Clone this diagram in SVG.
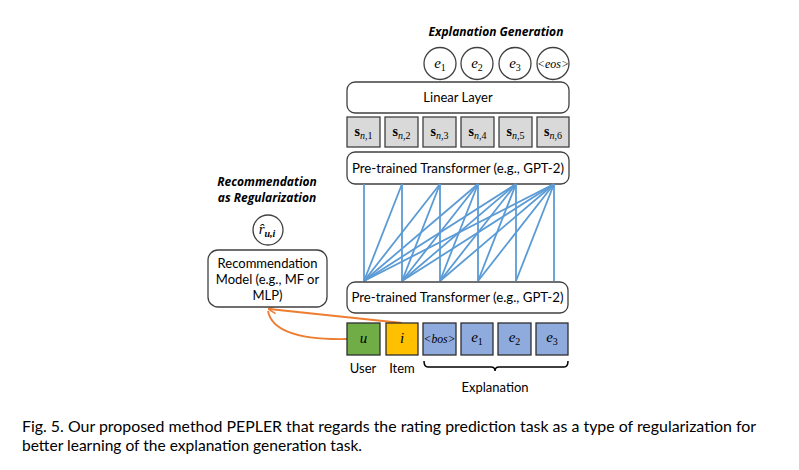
<svg xmlns="http://www.w3.org/2000/svg" width="799" height="470" viewBox="0 0 799 470">
<style>
.box{fill:#fff;stroke:#404040;stroke-width:1.3}
.lbl{font-family:Lato,"Open Sans",sans-serif;font-size:13px;fill:#000;text-anchor:middle}
.ttl{font-family:"Open Sans",Lato,sans-serif;font-size:12px;font-weight:bold;font-style:italic;fill:#000;text-anchor:middle}
.m{font-family:"Liberation Serif",serif;fill:#000;text-anchor:middle}
.sbox{fill:#d9d9d9;stroke:#404040;stroke-width:1.3}
.tok{fill:#8faadc;stroke:#2f2f2f;stroke-width:1.3}
.att{stroke:#5b9bd5;stroke-width:1.8;fill:none}
.cap{font-family:Lato,"Open Sans",sans-serif;font-size:15px;fill:#000}
</style>
<defs>
<marker id="oa" markerWidth="8" markerHeight="8" refX="7" refY="4" orient="auto" markerUnits="userSpaceOnUse">
<path d="M0,0 L8,4 L0,8" fill="none" stroke="#ed7d31" stroke-width="1.5"/>
</marker>
</defs>
<rect width="799" height="470" fill="#fff"/>

<g id="title-gen"><text class="ttl" x="496" y="36">Explanation Generation</text></g>
<g id="out-e1"><circle cx="440" cy="63.5" r="16" class="box"/><text class="m" x="440" y="68" font-style="italic" font-size="15">e<tspan font-size="10" dy="3" font-style="normal">1</tspan></text></g>
<g id="out-e2"><circle cx="477" cy="63.5" r="16" class="box"/><text class="m" x="477" y="68" font-style="italic" font-size="15">e<tspan font-size="10" dy="3" font-style="normal">2</tspan></text></g>
<g id="out-e3"><circle cx="515" cy="63.5" r="16" class="box"/><text class="m" x="515" y="68" font-style="italic" font-size="15">e<tspan font-size="10" dy="3" font-style="normal">3</tspan></text></g>
<g id="out-eos"><circle cx="553" cy="63.5" r="16" class="box"/><text class="m" x="553" y="67.5" font-style="italic" font-size="12" textLength="32" lengthAdjust="spacingAndGlyphs">&lt;eos&gt;</text></g>

<g id="linear"><rect x="347" y="82" width="222" height="31" rx="8" class="box"/><text class="lbl" x="458" y="102">Linear Layer</text></g>

<g id="s1"><rect x="347" y="117" width="33" height="30" class="sbox"/><text class="m" x="363.5" y="136" font-size="14"><tspan font-weight="bold">s</tspan><tspan font-size="10" dy="3"><tspan font-style="italic">n</tspan>,1</tspan></text></g>
<g id="s2"><rect x="385" y="117" width="33" height="30" class="sbox"/><text class="m" x="401.5" y="136" font-size="14"><tspan font-weight="bold">s</tspan><tspan font-size="10" dy="3"><tspan font-style="italic">n</tspan>,2</tspan></text></g>
<g id="s3"><rect x="423" y="117" width="33" height="30" class="sbox"/><text class="m" x="439.5" y="136" font-size="14"><tspan font-weight="bold">s</tspan><tspan font-size="10" dy="3"><tspan font-style="italic">n</tspan>,3</tspan></text></g>
<g id="s4"><rect x="461" y="117" width="33" height="30" class="sbox"/><text class="m" x="477.5" y="136" font-size="14"><tspan font-weight="bold">s</tspan><tspan font-size="10" dy="3"><tspan font-style="italic">n</tspan>,4</tspan></text></g>
<g id="s5"><rect x="499" y="117" width="33" height="30" class="sbox"/><text class="m" x="515.5" y="136" font-size="14"><tspan font-weight="bold">s</tspan><tspan font-size="10" dy="3"><tspan font-style="italic">n</tspan>,5</tspan></text></g>
<g id="s6"><rect x="537" y="117" width="32" height="30" class="sbox"/><text class="m" x="553" y="136" font-size="14"><tspan font-weight="bold">s</tspan><tspan font-size="10" dy="3"><tspan font-style="italic">n</tspan>,6</tspan></text></g>

<g id="transformer-top"><rect x="347" y="152" width="222" height="32" rx="8" class="box"/><text class="lbl" x="458" y="173" textLength="212" lengthAdjust="spacingAndGlyphs">Pre-trained Transformer (e.g., GPT-2)</text></g>

<g id="connectors">
<g class="att">
<line x1="364" y1="281" x2="364" y2="184"/><line x1="364" y1="281" x2="402" y2="184"/><line x1="364" y1="281" x2="440" y2="184"/><line x1="364" y1="281" x2="478" y2="184"/><line x1="364" y1="281" x2="516" y2="184"/><line x1="364" y1="281" x2="554" y2="184"/>
<line x1="402" y1="281" x2="402" y2="184"/><line x1="402" y1="281" x2="440" y2="184"/><line x1="402" y1="281" x2="478" y2="184"/><line x1="402" y1="281" x2="516" y2="184"/><line x1="402" y1="281" x2="554" y2="184"/>
<line x1="440" y1="281" x2="440" y2="184"/><line x1="440" y1="281" x2="478" y2="184"/><line x1="440" y1="281" x2="516" y2="184"/><line x1="440" y1="281" x2="554" y2="184"/>
<line x1="478" y1="281" x2="478" y2="184"/><line x1="478" y1="281" x2="516" y2="184"/><line x1="478" y1="281" x2="554" y2="184"/>
<line x1="516" y1="281" x2="516" y2="184"/><line x1="516" y1="281" x2="554" y2="184"/>
<line x1="554" y1="281" x2="554" y2="184"/>
</g>
<path d="M402,323 L269,309" fill="none" stroke="#ed7d31" stroke-width="1.8" marker-end="url(#oa)"/>
<path d="M347,339 C300,340 272,332 268,311" fill="none" stroke="#ed7d31" stroke-width="1.8"/>
</g>

<g id="transformer-bottom"><rect x="347" y="282" width="221" height="31" rx="8" class="box"/><text class="lbl" x="457.5" y="302" textLength="212" lengthAdjust="spacingAndGlyphs">Pre-trained Transformer (e.g., GPT-2)</text></g>

<g id="tok-u"><rect x="347" y="323" width="33" height="32" fill="#70ad47" stroke="#2f2f2f" stroke-width="1.3"/><text class="m" x="363.5" y="343" font-style="italic" font-size="15">u</text></g>
<g id="tok-i"><rect x="386" y="323" width="32" height="32" fill="#ffc000" stroke="#2f2f2f" stroke-width="1.3"/><text class="m" x="402" y="343" font-style="italic" font-size="15">i</text></g>
<g id="tok-bos"><rect x="423" y="323" width="33" height="32" class="tok"/><text class="m" x="439.5" y="343" font-style="italic" font-size="13" textLength="32" lengthAdjust="spacingAndGlyphs">&lt;bos&gt;</text></g>
<g id="tok-e1"><rect x="461" y="323" width="32" height="32" class="tok"/><text class="m" x="477" y="342" font-style="italic" font-size="15">e<tspan font-size="10" dy="3" font-style="normal">1</tspan></text></g>
<g id="tok-e2"><rect x="498" y="323" width="33" height="32" class="tok"/><text class="m" x="514.5" y="342" font-style="italic" font-size="15">e<tspan font-size="10" dy="3" font-style="normal">2</tspan></text></g>
<g id="tok-e3"><rect x="536" y="323" width="32" height="32" class="tok"/><text class="m" x="552" y="342" font-style="italic" font-size="15">e<tspan font-size="10" dy="3" font-style="normal">3</tspan></text></g>

<g id="labels">
<text class="lbl" x="363" y="373">User</text>
<text class="lbl" x="402" y="373">Item</text>
<path d="M424,361 Q424,367 428,367 L491,367 Q495,367 495,371 Q495,367 499,367 L564,367 Q568,367 568,361" fill="none" stroke="#000" stroke-width="1.5"/>
<text class="lbl" x="495" y="392">Explanation</text>
</g>

<g id="title-rec"><text class="ttl" x="267" y="186">Recommendation</text><text class="ttl" x="267" y="202">as Regularization</text></g>
<g id="rating"><circle cx="268" cy="230" r="15" class="box"/><text class="m" x="267" y="234" font-style="italic" font-size="15">r̂<tspan font-size="10" dy="3" font-weight="bold">u,i</tspan></text></g>
<g id="recmodel"><rect x="208" y="250" width="119" height="57" rx="10" class="box"/>
<text class="lbl" x="267.5" y="268">Recommendation</text>
<text class="lbl" x="267.5" y="284">Model (e.g., MF or</text>
<text class="lbl" x="267.5" y="300">MLP)</text></g>

<g id="caption">
<text class="cap" x="22" y="432" textLength="734" lengthAdjust="spacingAndGlyphs">Fig. 5.  Our proposed method PEPLER that regards the rating prediction task as a type of regularization for</text>
<text class="cap" x="22" y="451" textLength="340" lengthAdjust="spacingAndGlyphs">better learning of the explanation generation task.</text>
</g>
</svg>
